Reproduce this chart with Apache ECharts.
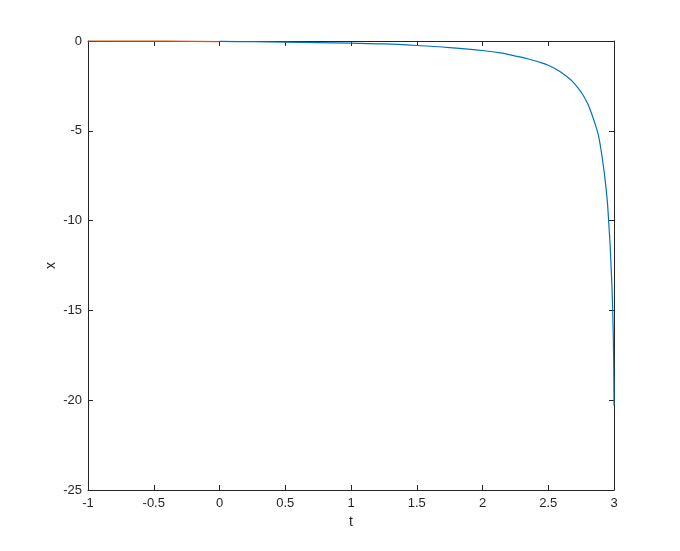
<!DOCTYPE html>
<html>
<head>
<meta charset="utf-8">
<script src="https://cdn.jsdelivr.net/npm/echarts@6/dist/echarts.min.js"></script>
<style>
  html, body { margin: 0; padding: 0; background: #fff; }
  #main { width: 680px; height: 551px; }
</style>
</head>
<body>
<div id="main"></div>
<script>
// orange piece, t in [-1, 0]
const tLeft = [-1, -0.7, -0.4, -0.2, 0];
const xLeft = [0, -0.004, -0.012, -0.02, -0.03];

// blue piece, t in [0, 3]
const tRight = [0, 0.25, 0.5, 0.75, 1, 1.25, 1.5, 1.75, 2, 2.15, 2.25, 2.35, 2.45, 2.5, 2.55,
  2.6, 2.64, 2.68, 2.72, 2.76, 2.8, 2.83, 2.86, 2.88, 2.9, 2.92, 2.935, 2.95, 2.96, 2.97,
  2.978, 2.985, 2.99, 2.995, 2.998, 3.0];
const xRight = [-0.02, -0.04, -0.06, -0.085, -0.12, -0.16, -0.25, -0.37, -0.53, -0.68, -0.84,
  -1.0, -1.22, -1.35, -1.53, -1.75, -1.97, -2.22, -2.55, -2.95, -3.5, -4.05, -4.7, -5.2, -6.0,
  -7.0, -7.9, -9.0, -10.1, -11.3, -12.6, -13.8, -15, -16.6, -18.2, -20.3];

const pairs = (ts, xs) => ts.map((t, i) => [t, xs[i]]);

const axisColor = "#262626";
const fontFamily = "Liberation Sans, Arial, sans-serif";

function boxAxis(pos, min, max, interval) {
  return {
    type: "value",
    position: pos,
    min: min,
    max: max,
    interval: interval,
    axisLine: { onZero: false, lineStyle: { color: axisColor, width: 1 } },
    axisTick: { inside: true, length: 5, lineStyle: { color: axisColor } },
    axisLabel: { show: false },
    splitLine: { show: false }
  };
}

let myChart = echarts.init(document.getElementById("main"));
myChart.setOption({
  animation: false,
  grid: { left: 88, right: 66, top: 41, bottom: 61 },
  xAxis: [
    {
      type: "value",
      position: "bottom",
      min: -1,
      max: 3,
      interval: 0.5,
      name: "t",
      nameLocation: "middle",
      nameGap: 23,
      nameTextStyle: { color: axisColor, fontSize: 14, fontFamily: fontFamily },
      axisLine: { onZero: false, lineStyle: { color: axisColor, width: 1 } },
      axisTick: { inside: true, length: 5, lineStyle: { color: axisColor } },
      axisLabel: { color: axisColor, fontSize: 13, fontFamily: fontFamily, margin: 7 },
      splitLine: { show: false }
    },
    boxAxis("top", -1, 3, 0.5)
  ],
  yAxis: [
    {
      type: "value",
      position: "left",
      min: -25,
      max: 0,
      interval: 5,
      name: "x",
      nameLocation: "middle",
      nameGap: 30,
      nameRotate: 90,
      nameMoveOverlap: false,
      nameTextStyle: { color: axisColor, fontSize: 14, fontFamily: fontFamily },
      axisLine: { onZero: false, lineStyle: { color: axisColor, width: 1 } },
      axisTick: { inside: true, length: 5, lineStyle: { color: axisColor } },
      axisLabel: { color: axisColor, fontSize: 13, fontFamily: fontFamily, margin: 6 },
      splitLine: { show: false }
    },
    boxAxis("right", -25, 0, 5)
  ],
  series: [
    {
      type: "line",
      data: pairs(tLeft, xLeft),
      showSymbol: false,
      clip: false,
      lineStyle: { color: "#D95319", width: 1.2 }
    },
    {
      type: "line",
      data: pairs(tRight, xRight),
      showSymbol: false,
      clip: false,
      smooth: 0.3,
      lineStyle: { color: "#0072BD", width: 1.2 }
    }
  ]
});
</script>
</body>
</html>
